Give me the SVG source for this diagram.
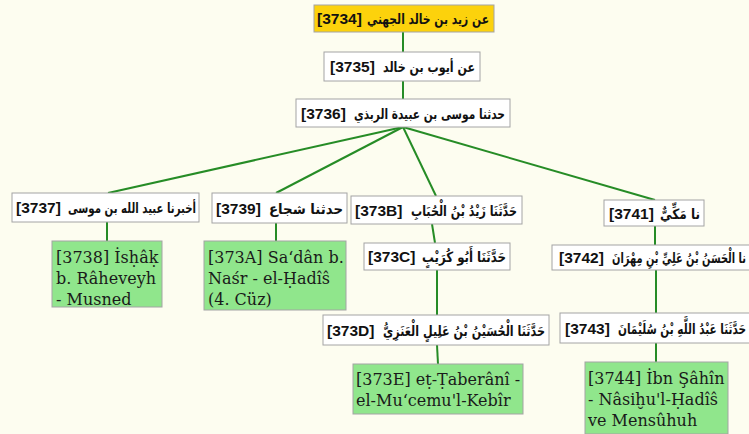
<svg xmlns="http://www.w3.org/2000/svg" width="749" height="434" viewBox="0 0 749 434">
  <style>
    .box{fill:#ffffff;stroke:#a4a4a4;stroke-width:1}
    .root{fill:#fcd20c}
    .leaf{fill:#90e68c}
    .num{font-family:'Liberation Sans',Arial,sans-serif;font-weight:bold;font-size:15.5px;fill:#111}
    .ar{font-family:'DejaVu Sans',sans-serif;font-weight:bold;font-size:14px;fill:#111;text-anchor:end}
    .lat{font-family:'DejaVu Serif','Liberation Serif',serif;font-size:16px;fill:#1a1a1a}
    .edge{stroke:#268c26;stroke-width:2;fill:none}
  </style>
  <rect width="749" height="434" fill="#fdfdf0"/>

  <g id="connectors">
    <line class="edge" x1="403" y1="32" x2="403" y2="52"/>
    <line class="edge" x1="403" y1="81" x2="403" y2="99"/>
    <line class="edge" x1="403" y1="127" x2="108" y2="193"/>
    <line class="edge" x1="403" y1="127" x2="276" y2="193"/>
    <line class="edge" x1="403" y1="127" x2="436" y2="196"/>
    <line class="edge" x1="403" y1="127" x2="655" y2="200"/>
    <line class="edge" x1="107" y1="222" x2="107" y2="241"/>
    <line class="edge" x1="276" y1="223" x2="276" y2="241"/>
    <line class="edge" x1="432" y1="224" x2="435" y2="243"/>
    <line class="edge" x1="437" y1="270" x2="437" y2="315"/>
    <line class="edge" x1="437" y1="345" x2="438" y2="364"/>
    <line class="edge" x1="655" y1="226" x2="655" y2="245"/>
    <line class="edge" x1="656" y1="270" x2="656" y2="313"/>
    <line class="edge" x1="656" y1="343" x2="656" y2="362"/>
  </g>

  <!-- each label: bracketed number on the left, Arabic phrase fitted to the right -->
  <g id="n3734">
    <rect class="box root" x="314" y="5" width="180" height="27"/>
    <text class="num" x="317" y="24">[3734]</text>
    <text class="ar" x="489" y="24" textLength="122" lengthAdjust="spacingAndGlyphs">عن زيد بن خالد الجهني</text>
  </g>
  <g id="n3735">
    <rect class="box" x="324" y="52" width="156" height="29"/>
    <text class="num" x="330" y="72">[3735]</text>
    <text class="ar" x="475" y="72" textLength="92" lengthAdjust="spacingAndGlyphs">عن أيوب بن خالد</text>
  </g>
  <g id="n3736">
    <rect class="box" x="296" y="99" width="214" height="28"/>
    <text class="num" x="301" y="118.5">[3736]</text>
    <text class="ar" x="505" y="118.5" textLength="151" lengthAdjust="spacingAndGlyphs">حدثنا موسى بن عبيدة الربذي</text>
  </g>
  <g id="n3737">
    <rect class="box" x="12" y="193" width="187" height="29"/>
    <text class="num" x="16" y="213">[3737]</text>
    <text class="ar" x="196" y="213" textLength="128" lengthAdjust="spacingAndGlyphs">أخبرنا عبيد الله بن موسى</text>
  </g>
  <g id="n3738">
    <rect class="box leaf" x="52" y="241" width="110" height="66"/>
    <text class="lat" x="56" y="263">[3738] İsḥâḳ</text>
    <text class="lat" x="56" y="284">b. Râheveyh</text>
    <text class="lat" x="56" y="305">- Musned</text>
  </g>
  <g id="n3739">
    <rect class="box" x="212" y="193" width="135" height="30"/>
    <text class="num" x="216" y="213.5">[3739]</text>
    <text class="ar" x="343" y="213.5" textLength="74" lengthAdjust="spacingAndGlyphs">حدثنا شجاع</text>
  </g>
  <g id="n373A">
    <rect class="box leaf" x="204" y="241" width="142" height="69"/>
    <text class="lat" x="208" y="263">[373A] Sa‘dân b.</text>
    <text class="lat" x="208" y="284">Naśr - el-Ḥadîŝ</text>
    <text class="lat" x="208" y="305">(4. Cüz)</text>
  </g>
  <g id="n373B">
    <rect class="box" x="351" y="196" width="171" height="28"/>
    <text class="num" x="355" y="215.5">[373B]</text>
    <text class="ar" x="517" y="215.5" textLength="106" lengthAdjust="spacingAndGlyphs">حَدَّثَنَا زَيْدُ بْنُ الْحُبَابِ</text>
  </g>
  <g id="n373C">
    <rect class="box" x="364" y="243" width="146" height="27"/>
    <text class="num" x="368" y="262">[373C]</text>
    <text class="ar" x="506" y="262" textLength="84" lengthAdjust="spacingAndGlyphs">حَدَّثَنَا أَبُو كُرَيْبٍ</text>
  </g>
  <g id="n373D">
    <rect class="box" x="323" y="315" width="226" height="30"/>
    <text class="num" x="327" y="335.5">[373D]</text>
    <text class="ar" x="545" y="335.5" textLength="162" lengthAdjust="spacingAndGlyphs">حَدَّثَنَا الْحُسَيْنُ بْنُ عَلِيلٍ الْعَنَزِيُّ</text>
  </g>
  <g id="n373E">
    <rect class="box leaf" x="353" y="364" width="170" height="50"/>
    <text class="lat" x="356" y="385">[373E] eṭ-Ṭaberânî -</text>
    <text class="lat" x="356" y="406">el-Mu‘cemu'l-Kebîr</text>
  </g>
  <g id="n3741">
    <rect class="box" x="604" y="200" width="100" height="26"/>
    <text class="num" x="609" y="218.5">[3741]</text>
    <text class="ar" x="700" y="218.5" textLength="40" lengthAdjust="spacingAndGlyphs">نا مَكِّيٌّ</text>
  </g>
  <g id="n3742">
    <rect class="box" x="552" y="245" width="208" height="25"/>
    <text class="num" x="559" y="263">[3742]</text>
    <text class="ar" x="746" y="263" textLength="134" lengthAdjust="spacingAndGlyphs">نا الْحَسَنُ بْنُ عَلِيِّ بْنِ مِهْرَانَ</text>
  </g>
  <g id="n3743">
    <rect class="box" x="560" y="313" width="195" height="30"/>
    <text class="num" x="565" y="333.5">[3743]</text>
    <text class="ar" x="746" y="333.5" textLength="128" lengthAdjust="spacingAndGlyphs">حَدَّثَنَا عَبْدُ اللَّهِ بْنُ سُلَيْمَانَ</text>
  </g>
  <g id="n3744">
    <rect class="box leaf" x="585" y="362" width="143" height="72"/>
    <text class="lat" x="588" y="383.5">[3744] İbn Şâhîn</text>
    <text class="lat" x="588" y="405">- Nâsiḫu'l-Ḥadîŝ</text>
    <text class="lat" x="588" y="426">ve Mensûhuh</text>
  </g>
</svg>
